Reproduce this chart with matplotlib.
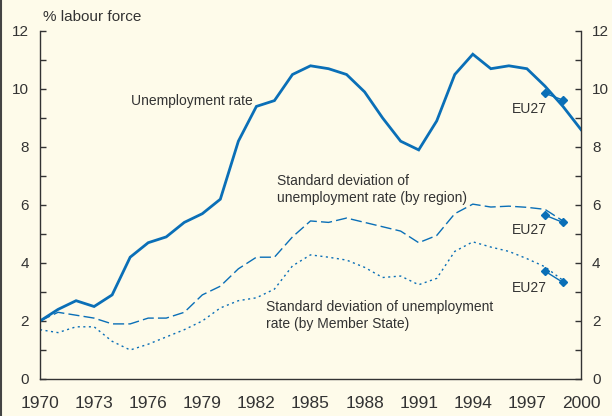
import matplotlib
matplotlib.use("Agg")
import matplotlib.pyplot as plt
from matplotlib.lines import Line2D

years = list(range(1970, 2001))
unemployment = [2.0, 2.4, 2.7, 2.5, 2.9, 4.2, 4.7, 4.9, 5.4, 5.7, 6.2, 8.2, 9.4, 9.6,
                10.5, 10.8, 10.7, 10.5, 9.9, 9.0, 8.2, 7.9, 8.9, 10.5, 11.2, 10.7,
                10.8, 10.7, 10.1, 9.4, 8.6]
sd_years = list(range(1970, 2000))
sd_region = [2.0, 2.3, 2.2, 2.1, 1.9, 1.9, 2.1, 2.1, 2.3, 2.9, 3.2, 3.8, 4.2, 4.2,
             4.9, 5.45, 5.4, 5.55, 5.4, 5.25, 5.1, 4.7, 4.95, 5.7, 6.03, 5.93,
             5.96, 5.92, 5.85, 5.45]
sd_member = [1.7, 1.6, 1.8, 1.8, 1.3, 1.0, 1.2, 1.45, 1.7, 2.0, 2.45, 2.7, 2.8, 3.1,
             3.9, 4.28, 4.2, 4.1, 3.85, 3.5, 3.55, 3.25, 3.47, 4.4, 4.73, 4.55,
             4.4, 4.15, 3.87, 3.4]
eu27_years = [1998, 1999]
eu27_unemp = [9.85, 9.62]
eu27_region = [5.65, 5.4]
eu27_member = [3.72, 3.33]
xtick_labels = ["1970", "1973", "1976", "1979", "1982", "1985", "1988", "1991", "1994", "1997", "2000"]

BG = "#FEFBEA"
BLUE = "#0A6FB7"
TXT = "#333333"
plt.rcParams['font.family'] = ['Liberation Sans', 'DejaVu Sans']

fig = plt.figure(figsize=(6.12, 4.16), dpi=100, facecolor=BG)
ax = fig.add_axes([40/612, 1-379/416, 541/612, 348/416], facecolor=BG)

ax.plot(years, unemployment, color=BLUE, lw=2.0, solid_joinstyle='miter')
ax.plot(sd_years, sd_region, color=BLUE, lw=1.0, dashes=(8, 3))
ax.plot(sd_years, sd_member, color=BLUE, lw=1.0, dashes=(1.5, 2.5))
for vals in (eu27_unemp, eu27_region, eu27_member):
    ax.plot(eu27_years, vals, color=BLUE, lw=1.0, marker='D', ms=4.5)

ax.set_xlim(1970, 2000)
ax.set_ylim(0, 12)
ax.set_xticks([int(t) for t in xtick_labels])
ax.set_xticklabels(xtick_labels)
ax.set_yticks(range(0, 13, 2))
ax.set_yticks(range(1, 13, 2), minor=True)

ax.spines['top'].set_visible(False)
for s in ['left', 'right', 'bottom']:
    ax.spines[s].set_color(TXT)
    ax.spines[s].set_linewidth(1.0)

ax.tick_params(axis='x', length=0, pad=12, labelsize=12.5, colors=TXT)
ax.tick_params(axis='y', which='both', direction='in', length=4, width=1.0,
               left=True, right=True, labelleft=True, labelright=True,
               labelsize=11, pad=8, colors=TXT)

ax.text(1970.15, 12.48, "% labour force", fontsize=11, color=TXT, va='center', ha='left')
ax.text(1975.05, 9.59, "Unemployment rate", fontsize=10, color=TXT, va='center', ha='left')
ax.text(1983.15, 6.53, "Standard deviation of\nunemployment rate (by region)",
        fontsize=10, color=TXT, va='center', ha='left', linespacing=1.25)
ax.text(1982.55, 2.2, "Standard deviation of unemployment\nrate (by Member State)",
        fontsize=10, color=TXT, va='center', ha='left', linespacing=1.25)
for yv in (9.31, 5.14, 3.14):
    ax.text(1996.15, yv, "EU27", fontsize=10, color=TXT, va='center', ha='left')

fig.add_artist(Line2D([1/612, 1/612], [0, 1], transform=fig.transFigure, color="#444444", lw=1.5))

fig.savefig("out.png", dpi=100, facecolor=BG)
